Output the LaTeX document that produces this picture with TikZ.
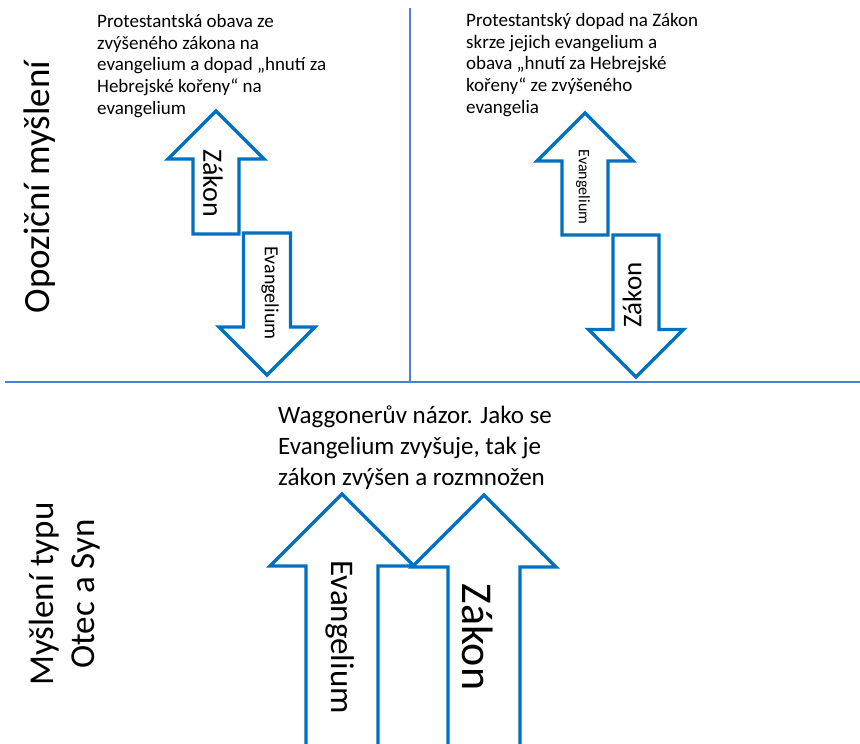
\documentclass[tikz,border=0pt]{standalone}
\usepackage{fontspec}
\setmainfont{Carlito}
\usepackage{xcolor}
\definecolor{arrowblue}{HTML}{0070C0}
\definecolor{axisblue}{HTML}{4A7FD8}
\usepackage{tikz}
\usetikzlibrary{positioning}

\begin{document}
\begin{tikzpicture}[x=1pt, y=-1pt,
    axis/.style={draw=axisblue, line width=1.6pt},
    blockarrow/.style={draw=arrowblue, fill=white, line width=3.4pt, line join=miter},
    note/.style={font=\fontsize{19}{21.8}\selectfont, align=left, anchor=north west, inner sep=0pt},
    side/.style={font=\fontsize{37}{41}\selectfont, align=center, rotate=90, inner sep=0pt},
    inlabel/.style={inner sep=0pt}
  ]
    \useasboundingbox (0,0) rectangle (860,744);
    % quadrant lines
    \draw[axis] (5,382) -- (860,382);
    \draw[axis] (410,8) -- (410,382);
    % small block arrows: x/tip/tail/shaft/head
    \foreach \x/\tip/\tail/\sh/\hh in {
      216/111/234/23/48,
      267/375/233/23.5/48,
      585/113/235/23/48,
      636/377/235/23/47.5
    } {
      \pgfmathsetmacro{\dir}{\tail > \tip ? 1 : -1}
      \pgfmathsetmacro{\base}{\tip + \dir*\hh}
      \draw[blockarrow] (\x,\tip) -- (\x+\hh,\base) -- (\x+\sh,\base) -- (\x+\sh,\tail)
        -- (\x-\sh,\tail) -- (\x-\sh,\base) -- (\x-\hh,\base) -- cycle;
    }
    % big arrows, cut by the bottom edge
    \foreach \x/\tip in {342/494, 484/495} {
      \draw[blockarrow] (\x-36,750) -- (\x-36,\tip+72) -- (\x-72,\tip+72) -- (\x,\tip)
        -- (\x+72,\tip+72) -- (\x+36,\tip+72) -- (\x+36,750);
    }
    % arrow labels
    \node[inlabel, rotate=-90, font=\fontsize{28}{30}\selectfont] (lawUp) at (213,183) {Zákon};
    \node[inlabel, rotate=-90, font=\fontsize{20}{24}\selectfont] (gospelDown) at (270,293) {Evangelium};
    \node[inlabel, rotate=-90, font=\fontsize{16}{20}\selectfont] (gospelUp) at (583,187) {Evangelium};
    \node[inlabel, rotate=90, font=\fontsize{27}{30}\selectfont] (lawDown) at (632,295) {Zákon};
    \node[inlabel, rotate=-90, font=\fontsize{33}{36}\selectfont] (gospelBig) at (340,637) {Evangelium};
    \node[inlabel, rotate=-90, font=\fontsize{44}{46}\selectfont] (lawBig) at (478,637) {Zákon};
    % quadrant notes
    \node[note] (protestLeft) at (97,14) {Protestantská obava ze\\zvýšeného zákona na\\evangelium a dopad „hnutí za\\Hebrejské kořeny“ na\\evangelium};
    \node[note] (protestRight) at (466,13) {Protestantský dopad na Zákon\\skrze jejich evangelium a\\obava „hnutí za Hebrejské\\kořeny“ ze zvýšeného\\evangelia};
    \node[note, font=\fontsize{25}{31}\selectfont] (waggoner) at (278,406) {Waggonerův názor. Jako se\\Evangelium zvyšuje, tak je\\zákon zvýšen a rozmnožen};
    % row headings
    \node[side] (opposition) at (40,187) {Opoziční myšlení};
    \node[side, font=\fontsize{35}{41}\selectfont] (fatherSon) at (65,594) {Myšlení typu\\Otec a Syn};
\end{tikzpicture}
\end{document}
